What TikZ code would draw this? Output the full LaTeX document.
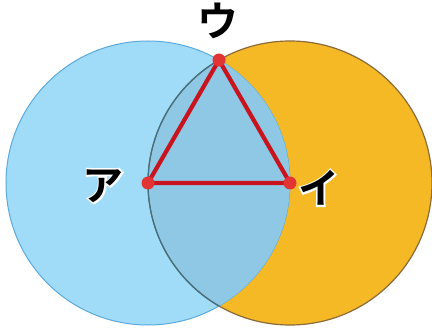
\documentclass[tikz,border=0pt]{standalone}
\usepackage{fontspec}
\newfontfamily\jpfont{Noto Sans CJK JP Bold}
\newfontface\jphalo{Noto Sans CJK JP Bold}[FakeBold=8]
\usepackage{tikz}
\usetikzlibrary{positioning}
\definecolor{skyfill}{HTML}{A0DCF7}
\definecolor{skyedge}{HTML}{5AAADC}
\definecolor{ambfill}{HTML}{F5B926}
\definecolor{ambedge}{HTML}{8C6A3A}
\definecolor{mixfill}{HTML}{8EC8E4}
\definecolor{mixedge}{HTML}{3E7088}
\definecolor{trired}{HTML}{C8141E}
\definecolor{dotred}{HTML}{E33434}

% kana label with a white halo behind it
\newcommand{\kanalabel}[3]{%
  \node[kana, font=\jphalo\fontsize{41}{41}\selectfont, text=white] at (#2) {#3};
  \node[kana] (#1) at (#2) {#3};}

\begin{document}
\begin{tikzpicture}[x=1pt, y=-1pt]
    \tikzstyle{vdot}=[circle, fill=dotred, inner sep=0pt, minimum size=13pt]
    \tikzstyle{kana}=[font=\jpfont\fontsize{41}{41}\selectfont, inner sep=0pt, text=black]
    \tikzstyle{tri}=[draw=trired, line width=4.2pt, line join=round]

    \useasboundingbox (0,0) rectangle (432,329);

    % circles
    \fill[ambfill] (290,183) circle [radius=142pt];
    \filldraw[fill=skyfill, draw=skyedge, line width=1pt] (148,183) circle [radius=142pt];
    \begin{scope}
      \clip (290,183) circle [radius=142pt];
      \fill[mixfill] (148,183) circle [radius=142pt];
    \end{scope}
    \draw[ambedge, line width=1.2pt] (290,183) circle [radius=142pt];
    \begin{scope}
      \clip (148,183) circle [radius=142pt];
      \draw[mixedge, line width=1.2pt] (290,183) circle [radius=142pt];
    \end{scope}

    % triangle
    \coordinate (pa) at (148,183);
    \coordinate (pb) at (290,183);
    \coordinate (pc) at (219,60);
    \draw[tri] (pa) -- (pb) -- (pc) -- cycle;
    \node[vdot] (da) at (pa) {};
    \node[vdot] (db) at (pb) {};
    \node[vdot] (dc) at (pc) {};

    % labels
    \coordinate[left=38pt of da, yshift=-3pt] (ka);
    \coordinate[right=22pt of db, yshift=-5pt] (kb);
    \coordinate[above=32pt of dc, xshift=-1pt] (kc);
    \kanalabel{la}{ka}{ア}
    \kanalabel{lb}{kb}{イ}
    \kanalabel{lc}{kc}{ウ}
\end{tikzpicture}
\end{document}
